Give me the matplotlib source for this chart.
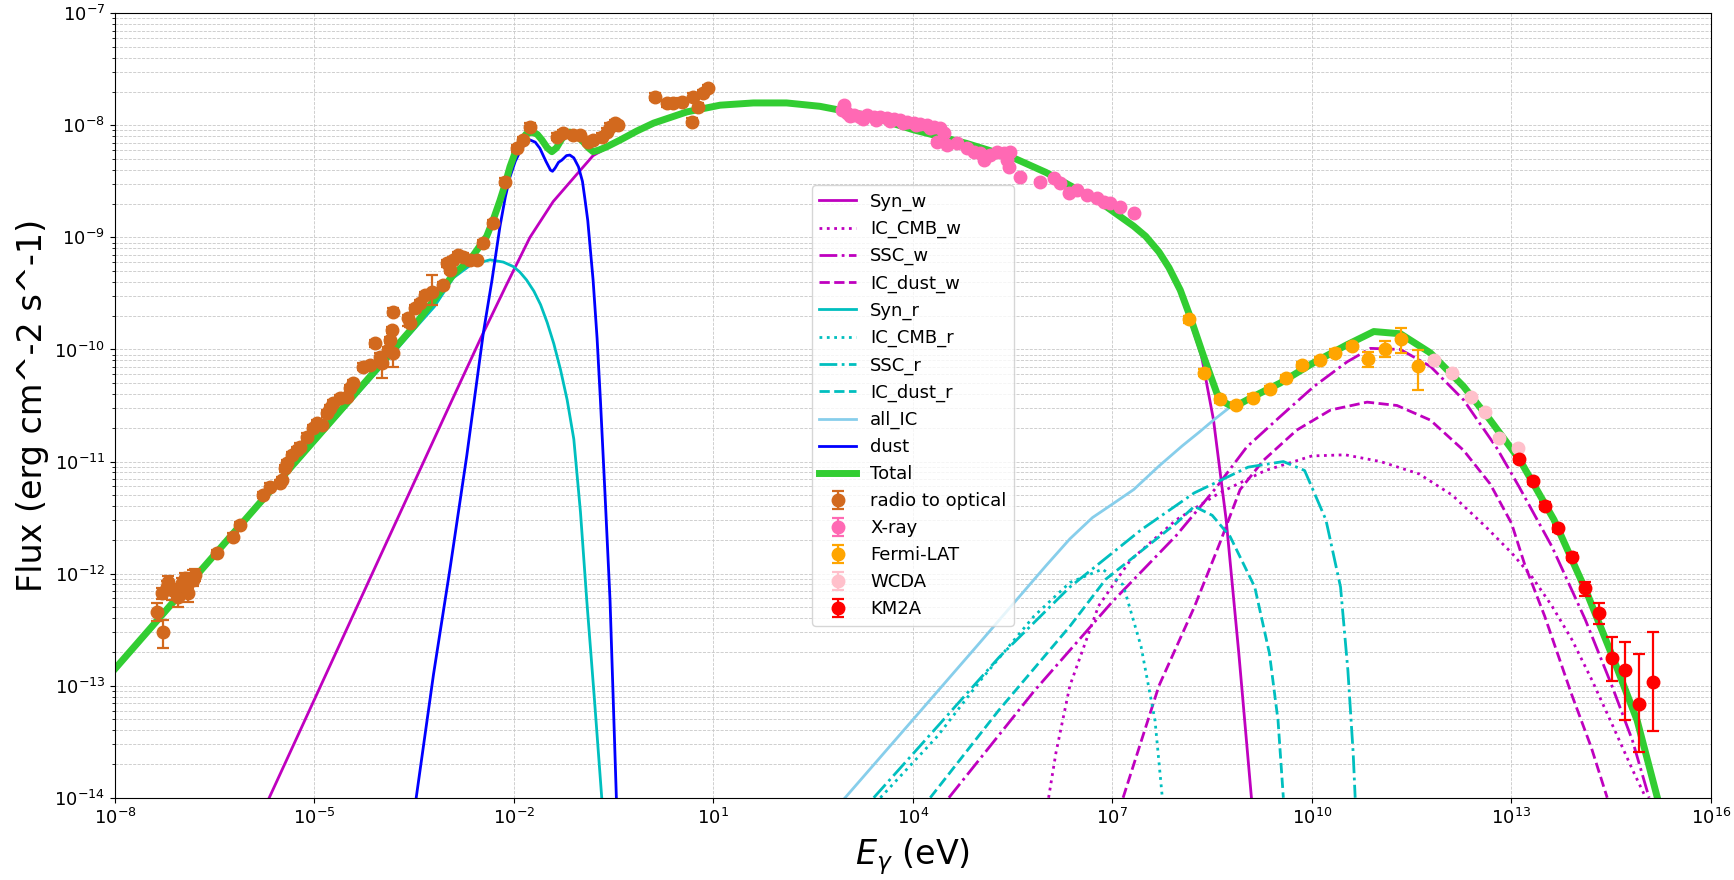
import numpy as np
import matplotlib
matplotlib.use("Agg")
import matplotlib.pyplot as plt

# ---- model components: log10(E / eV) and log10(flux / erg cm^-2 s^-1) ----
syn_w_logE = [-5.68, -4.82, -4.0, -3.0, -2.5, -2.11, -1.76, -1.41, -1.06, -0.81, -0.60, -0.40,
              -0.15, 0.10, 0.60, 1.10, 1.60, 2.10, 2.60, 3.30, 4.01, 4.80, 5.51, 6.0, 6.31,
              6.80, 7.32, 7.50, 7.70, 7.85, 8.02, 8.17, 8.34, 8.52, 8.71, 8.90, 9.09]
syn_w_logF = [-14.0, -12.89, -11.83, -10.54, -9.90, -9.42, -9.0, -8.68, -8.44, -8.27, -8.20,
              -8.14, -8.06, -7.99, -7.89, -7.83, -7.81, -7.81, -7.84, -7.92, -8.05, -8.17,
              -8.30, -8.43, -8.53, -8.69, -8.91, -9.0, -9.15, -9.29, -9.50, -9.75, -10.06,
              -10.63, -11.52, -12.71, -14.0]

ic_cmb_w_logE = [6.04, 6.15, 6.36, 6.79, 7.27, 7.96, 8.61, 9.30, 10.0, 10.5, 11.03, 11.61,
                 12.11, 12.61, 13.01, 13.31, 13.61, 13.91, 14.21, 14.51, 14.82, 15.02]
ic_cmb_w_logF = [-14.0, -13.6, -13.0, -12.29, -11.88, -11.52, -11.28, -11.08, -10.95, -10.94,
                 -11.0, -11.11, -11.3, -11.58, -11.82, -12.03, -12.29, -12.59, -12.95, -13.34,
                 -13.75, -14.0]

ssc_w_logE = [4.54, 5.82, 7.0, 7.96, 8.55, 9.02, 9.52, 10.03, 10.53, 10.88, 11.33, 11.78,
              12.28, 12.78, 13.11, 13.61, 14.11, 14.51, 14.82, 15.07]
ssc_w_logF = [-14.0, -13.05, -12.25, -11.66, -11.24, -10.87, -10.60, -10.33, -10.11, -9.99,
              -10.0, -10.15, -10.45, -10.88, -11.22, -11.76, -12.41, -13.0, -13.49, -14.0]

ic_dust_w_logE = [7.16, 7.70, 8.23, 8.60, 8.92, 9.27, 9.77, 10.28, 10.83, 11.28, 11.78, 12.28,
                  12.68, 13.0, 13.2, 13.5, 13.9, 14.2, 14.44]
ic_dust_w_logF = [-14.0, -13.0, -12.30, -11.75, -11.25, -10.99, -10.72, -10.54, -10.47, -10.50,
                  -10.63, -10.90, -11.20, -11.55, -11.92, -12.38, -13.07, -13.55, -14.0]

syn_r_logE = [-8.0, -7.0, -6.0, -5.0, -4.0, -3.5, -3.2, -2.91, -2.66, -2.36, -2.16, -2.01,
              -1.91, -1.81, -1.70, -1.60, -1.50, -1.40, -1.30, -1.20, -1.10, -1.0, -0.905,
              -0.79, -0.68]
syn_r_logF = [-12.87, -12.19, -11.51, -10.83, -10.16, -9.82, -9.62, -9.36, -9.25, -9.20, -9.22,
              -9.26, -9.31, -9.38, -9.48, -9.60, -9.76, -9.95, -10.18, -10.45, -10.80, -11.45,
              -12.24, -13.12, -14.0]

ic_cmb_r_logE = [3.51, 4.37, 5.02, 5.82, 6.36, 6.85, 7.16, 7.43, 7.64, 7.75]
ic_cmb_r_logF = [-14.0, -13.45, -12.95, -12.38, -12.08, -11.96, -12.10, -12.65, -13.31, -14.0]

ssc_r_logE = [3.41, 4.36, 5.29, 6.36, 7.43, 8.23, 9.04, 9.57, 9.89, 10.21, 10.43, 10.54,
              10.62, 10.65]
ssc_r_logF = [-14.0, -13.37, -12.75, -12.12, -11.61, -11.28, -11.05, -11.0, -11.08, -11.52,
              -12.12, -12.86, -13.6, -14.0]

ic_dust_r_logE = [4.26, 5.29, 6.36, 6.9, 7.43, 7.96, 8.23, 8.5, 8.77, 9.14, 9.36, 9.49, 9.57]
ic_dust_r_logF = [-14.0, -13.22, -12.47, -12.05, -11.80, -11.55, -11.40, -11.48, -11.67,
                  -12.12, -12.71, -13.31, -14.0]

all_ic_logE = [2.98, 4.21, 5.0, 5.55, 6.0, 6.36, 6.7, 7.0, 7.32, 7.70, 8.05, 8.30, 8.52,
               8.82, 9.12, 9.52, 10.02, 10.52, 10.93, 11.33, 11.78, 12.28, 12.68, 13.13,
               13.64, 14.14, 14.54, 14.89, 15.19]
all_ic_logF = [-14.0, -13.16, -12.62, -12.24, -11.93, -11.69, -11.50, -11.38, -11.25, -11.04,
               -10.86, -10.74, -10.63, -10.49, -10.42, -10.30, -10.12, -9.96, -9.84, -9.86,
               -10.03, -10.33, -10.63, -10.99, -11.52, -12.18, -12.77, -13.31, -13.99]

dust_logE = [-3.47, -3.21, -2.96, -2.71, -2.46, -2.33, -2.21, -2.13, -2.06, -1.98, -1.91,
             -1.83, -1.76, -1.68, -1.61, -1.52, -1.45, -1.42, -1.38, -1.33, -1.28, -1.21,
             -1.16, -1.10, -1.03, -0.97, -0.93, -0.89, -0.86, -0.81, -0.75, -0.70, -0.63,
             -0.555, -0.46]
dust_logF = [-14.0, -12.9, -11.95, -10.95, -9.85, -9.38, -8.90, -8.64, -8.46, -8.32, -8.235,
             -8.16, -8.13, -8.15, -8.205, -8.32, -8.40, -8.41, -8.38, -8.33, -8.31, -8.27,
             -8.265, -8.29, -8.37, -8.50, -8.67, -8.85, -9.05, -9.38, -9.90, -10.45, -11.30,
             -12.24, -14.0]

total_logE = [-8.0, -7.0, -6.0, -5.0, -4.0, -3.5, -3.0, -2.91, -2.66, -2.41, -2.31, -2.21,
              -2.13, -2.06, -1.98, -1.91, -1.82, -1.73, -1.65, -1.58, -1.50, -1.43, -1.36,
              -1.28, -1.20, -1.16, -1.08, -0.96, -0.88, -0.81, -0.72, -0.60, -0.40, -0.15,
              0.10, 0.60, 1.10, 1.60, 2.10, 2.60, 3.30, 4.01, 4.80, 5.51, 6.0, 6.31, 6.80,
              7.32, 7.50, 7.70, 7.85, 8.02, 8.17, 8.37, 8.57, 8.68, 8.77, 8.90, 9.12, 9.52,
              10.02, 10.52, 10.93, 11.33, 11.78, 12.28, 12.68, 13.13, 13.64, 14.14, 14.54,
              14.89, 15.19]
total_logF = [-12.85, -12.17, -11.49, -10.81, -10.13, -9.79, -9.40, -9.33, -9.20, -8.99,
              -8.84, -8.67, -8.52, -8.37, -8.24, -8.16, -8.08, -8.06, -8.08, -8.13, -8.20,
              -8.235, -8.20, -8.12, -8.07, -8.06, -8.08, -8.146, -8.20, -8.235, -8.22,
              -8.19, -8.13, -8.05, -7.98, -7.88, -7.82, -7.80, -7.80, -7.83, -7.91, -8.04,
              -8.16, -8.29, -8.42, -8.52, -8.68, -8.90, -8.99, -9.13, -9.27, -9.47, -9.71,
              -10.06, -10.39, -10.47, -10.50, -10.49, -10.42, -10.30, -10.12, -9.96, -9.84,
              -9.86, -10.03, -10.33, -10.63, -10.99, -11.52, -12.18, -12.77, -13.31, -13.99]

# ---- measurements: log10 values, errors in dex (down, up) ----
radio_logE = [-7.373, -7.273, -7.298, -7.223, -7.198, -7.148, -7.047, -6.997, -6.947, -6.897,
              -6.822, -6.797, -6.471, -6.220, -6.120, -5.769, -5.669, -5.518, -5.493, -5.443,
              -5.418, -5.343, -5.267, -5.217, -5.117, -5.017, -4.967, -4.891, -4.816, -4.766,
              -4.716, -4.616, -4.515, -4.465, -4.415, -4.265, -4.164, -4.089, -4.014, -3.989,
              -3.889, -3.863, -3.838, -3.813, -3.813, -3.588, -3.563, -3.487, -3.412, -3.337,
              -3.237, -3.061, -3.011, -2.961, -2.911, -2.836, -2.761, -2.660, -2.560, -2.459,
              -2.309, -2.134, -1.958, -1.858, -1.757, -1.356, -1.256, -1.106, -1.005, -0.880,
              -0.805, -0.679, -0.604, -0.554, -0.479, -0.429, 0.123, 0.298, 0.399, 0.524,
              0.674, 0.699, 0.775, 0.850, 0.925]
radio_logF = [-12.340, -12.518, -12.176, -12.117, -12.072, -12.146, -12.206, -12.087, -12.042,
              -12.176, -12.057, -12.012, -11.819, -11.670, -11.566, -11.299, -11.224, -11.195,
              -11.165, -11.061, -11.016, -10.942, -10.897, -10.867, -10.778, -10.704, -10.659,
              -10.674, -10.570, -10.525, -10.480, -10.436, -10.421, -10.347, -10.302, -10.153,
              -10.139, -9.945, -10.064, -10.124, -10.005, -9.915, -9.826, -9.663, -10.034,
              -9.722, -9.767, -9.633, -9.588, -9.514, -9.484, -9.425, -9.231, -9.291, -9.201,
              -9.157, -9.172, -9.201, -9.201, -9.053, -8.874, -8.502, -8.205, -8.131, -8.012,
              -8.101, -8.071, -8.086, -8.086, -8.145, -8.131, -8.101, -8.056, -8.012, -7.982,
              -7.997, -7.744, -7.804, -7.804, -7.789, -7.967, -7.744, -7.833, -7.714, -7.670]
radio_err_dn = [0.08, 0.15, 0.05, 0.06, 0.05, 0.09, 0.09, 0.06, 0.05, 0.08, 0.05, 0.05, 0.03,
                0.03, 0.03, 0.03, 0.03, 0.03, 0.03, 0.03, 0.03, 0.03, 0.03, 0.03, 0.03, 0.03,
                0.03, 0.03, 0.03, 0.03, 0.03, 0.03, 0.03, 0.03, 0.03, 0.03, 0.03, 0.03, 0.03,
                0.13, 0.03, 0.03, 0.03, 0.03, 0.12, 0.07, 0.03, 0.03, 0.03, 0.03, 0.12, 0.03,
                0.03, 0.03, 0.03, 0.03, 0.03, 0.03, 0.03, 0.03, 0.03, 0.03, 0.03, 0.03, 0.03,
                0.03, 0.03, 0.03, 0.03, 0.03, 0.03, 0.03, 0.03, 0.03, 0.03, 0.03, 0.03, 0.03,
                0.03, 0.03, 0.03, 0.03, 0.03, 0.03, 0.03]
radio_err_up = [0.08, 0.10, 0.05, 0.05, 0.05, 0.05, 0.05, 0.05, 0.05, 0.05, 0.09, 0.05, 0.03,
                0.03, 0.03, 0.03, 0.03, 0.03, 0.03, 0.03, 0.03, 0.03, 0.03, 0.03, 0.03, 0.03,
                0.03, 0.03, 0.03, 0.03, 0.03, 0.03, 0.03, 0.03, 0.03, 0.03, 0.03, 0.03, 0.03,
                0.03, 0.03, 0.03, 0.03, 0.03, 0.03, 0.03, 0.03, 0.03, 0.03, 0.03, 0.15, 0.03,
                0.03, 0.03, 0.03, 0.03, 0.03, 0.03, 0.03, 0.03, 0.03, 0.03, 0.03, 0.03, 0.03,
                0.03, 0.03, 0.03, 0.03, 0.03, 0.03, 0.03, 0.03, 0.03, 0.03, 0.03, 0.03, 0.03,
                0.03, 0.03, 0.03, 0.03, 0.03, 0.03, 0.03]

xray_logE = [2.956, 2.931, 3.006, 3.106, 3.206, 3.307, 3.407, 3.507, 3.608, 3.708, 3.808,
             3.908, 4.009, 4.109, 4.209, 4.310, 4.410, 4.460, 4.360, 4.510, 4.660, 4.811,
             4.911, 5.011, 5.062, 5.162, 5.262, 5.362, 5.412, 5.437, 5.463, 5.613, 5.914,
             6.115, 6.215, 6.340, 6.466, 6.616, 6.766, 6.867, 6.967, 7.117, 7.318,
             3.05, 3.25, 3.45, 3.65, 3.85, 4.05, 4.25]
xray_logF = [-7.818, -7.863, -7.893, -7.908, -7.923, -7.908, -7.923, -7.929, -7.937, -7.946,
             -7.952, -7.967, -7.976, -7.988, -7.997, -8.012, -8.027, -8.071, -8.145, -8.175,
             -8.160, -8.205, -8.235, -8.250, -8.309, -8.264, -8.235, -8.250, -8.309, -8.369,
             -8.235, -8.458, -8.502, -8.473, -8.517, -8.607, -8.577, -8.622, -8.651, -8.681,
             -8.696, -8.726, -8.785,
             -7.92, -7.94, -7.95, -7.96, -7.98, -8.0, -8.02]

fermi_logE = [8.145, 8.381, 8.621, 8.862, 9.113, 9.363, 9.614, 9.850, 10.116, 10.351, 10.602,
              10.838, 11.103, 11.339, 11.590]
fermi_logF = [-9.731, -10.207, -10.445, -10.496, -10.430, -10.353, -10.258, -10.139, -10.094,
              -10.029, -9.969, -10.088, -9.999, -9.909, -10.147]
fermi_err_dn = [0.03, 0.03, 0.03, 0.03, 0.03, 0.03, 0.03, 0.03, 0.03, 0.03, 0.03, 0.071,
                0.065, 0.12, 0.215]
fermi_err_up = [0.03, 0.03, 0.03, 0.03, 0.03, 0.03, 0.03, 0.03, 0.03, 0.03, 0.03, 0.068,
                0.078, 0.098, 0.142]

wcda_logE = [11.830, 12.106, 12.392, 12.608, 12.808, 13.094]
wcda_logF = [-10.094, -10.207, -10.427, -10.555, -10.793, -10.876]

km2a_logE = [13.119, 13.325, 13.505, 13.706, 13.911, 14.112, 14.318, 14.513, 14.714, 14.914,
             15.125]
km2a_logF = [-10.977, -11.174, -11.394, -11.596, -11.849, -12.132, -12.349, -12.756, -12.860,
             -13.164, -12.970]
km2a_err_dn = [0.03, 0.03, 0.03, 0.03, 0.03, 0.065, 0.104, 0.202, 0.446, 0.431, 0.435]
km2a_err_up = [0.03, 0.03, 0.03, 0.03, 0.03, 0.060, 0.084, 0.193, 0.247, 0.444, 0.446]


def lin(v):
    return np.power(10.0, np.asarray(v, dtype=float))


def asym_err(logf, dn, up):
    f = lin(logf)
    dn = np.broadcast_to(np.asarray(dn, dtype=float), f.shape)
    up = np.broadcast_to(np.asarray(up, dtype=float), f.shape)
    return f, np.vstack([f - f * 10.0 ** (-dn), f * 10.0 ** up - f])


fig = plt.figure(figsize=(17.34, 8.8), dpi=100)
ax = fig.add_axes([0.0663, 0.0935, 0.9204, 0.8914])

lw = 2.0
ax.plot(lin(syn_w_logE), lin(syn_w_logF), color="m", ls="-", lw=lw, label="Syn_w")
ax.plot(lin(ic_cmb_w_logE), lin(ic_cmb_w_logF), color="m", ls=":", lw=lw, label="IC_CMB_w")
ax.plot(lin(ssc_w_logE), lin(ssc_w_logF), color="m", ls="-.", lw=lw, label="SSC_w")
ax.plot(lin(ic_dust_w_logE), lin(ic_dust_w_logF), color="m", ls="--", lw=lw, label="IC_dust_w")
ax.plot(lin(syn_r_logE), lin(syn_r_logF), color="c", ls="-", lw=lw, label="Syn_r")
ax.plot(lin(ic_cmb_r_logE), lin(ic_cmb_r_logF), color="c", ls=":", lw=lw, label="IC_CMB_r")
ax.plot(lin(ssc_r_logE), lin(ssc_r_logF), color="c", ls="-.", lw=lw, label="SSC_r")
ax.plot(lin(ic_dust_r_logE), lin(ic_dust_r_logF), color="c", ls="--", lw=lw, label="IC_dust_r")
ax.plot(lin(all_ic_logE), lin(all_ic_logF), color="skyblue", ls="-", lw=lw, label="all_IC")
ax.plot(lin(dust_logE), lin(dust_logF), color="b", ls="-", lw=lw, label="dust")
ax.plot(lin(total_logE), lin(total_logF), color="limegreen", ls="-", lw=5, label="Total")

eb = dict(fmt="o", ms=9, capsize=4, elinewidth=1.6, capthick=1.6)

f, err = asym_err(radio_logF, radio_err_dn, radio_err_up)
ax.errorbar(lin(radio_logE), f, yerr=err, color="chocolate", label="radio to optical", **eb)
f, err = asym_err(xray_logF, 0.01, 0.01)
ax.errorbar(lin(xray_logE), f, yerr=err, color="hotpink", label="X-ray", **eb)
f, err = asym_err(fermi_logF, fermi_err_dn, fermi_err_up)
ax.errorbar(lin(fermi_logE), f, yerr=err, color="orange", label="Fermi-LAT", **eb)
f, err = asym_err(wcda_logF, 0.02, 0.02)
ax.errorbar(lin(wcda_logE), f, yerr=err, color="pink", label="WCDA", **eb)
f, err = asym_err(km2a_logF, km2a_err_dn, km2a_err_up)
ax.errorbar(lin(km2a_logE), f, yerr=err, color="red", label="KM2A", **eb)

ax.set_xscale("log")
ax.set_yscale("log")
ax.set_xlim(1e-8, 1e16)
ax.set_ylim(1e-14, 1e-7)
ax.set_xticks([10.0 ** k for k in range(-8, 17, 3)])
ax.xaxis.set_minor_locator(matplotlib.ticker.NullLocator())
ax.tick_params(labelsize=13)
ax.grid(True, which="both", ls="--", lw=0.6, color="#c8c8c8")

ax.set_xlabel(r"$E_\gamma$ (eV)", fontsize=24, labelpad=6)
ax.set_ylabel("Flux (erg cm^-2 s^-1)", fontsize=24)
ax.legend(loc="center", fontsize=13)

fig.savefig("out.png", dpi=100)
